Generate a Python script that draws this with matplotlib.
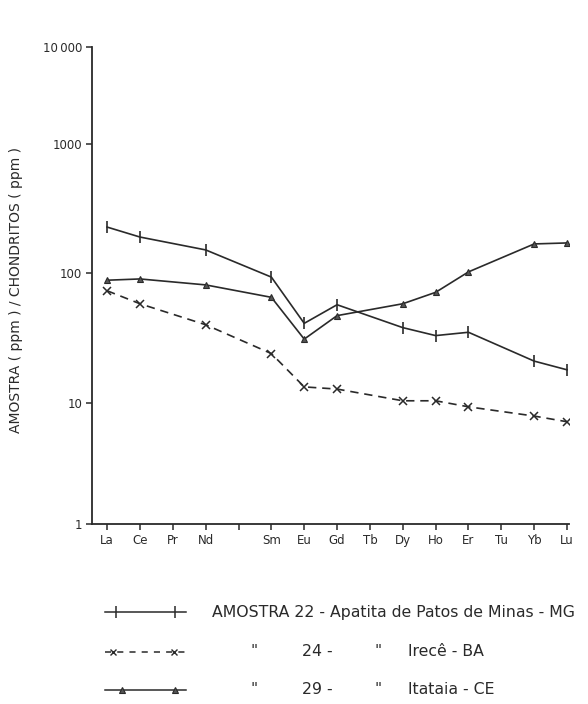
import numpy as np
import matplotlib
matplotlib.use("Agg")
import matplotlib.pyplot as plt
from matplotlib.ticker import FixedLocator, NullLocator

elements = ["La", "Ce", "Pr", "Nd", "", "Sm", "Eu", "Gd", "Tb", "Dy", "Ho", "Er", "Tu", "Yb", "Lu"]

# sample 22 (positions in element list), values normalised to chondrites
s22_idx = [0, 1, 3, 5, 6, 7, 9, 10, 11, 13, 14]
s22_val = [227, 190, 151, 93, 41, 57, 38, 33, 35, 21, 18]

s24_idx = [0, 1, 3, 5, 6, 7, 9, 10, 11, 13, 14]
s24_val = [73, 58, 40, 24, 13.3, 12.8, 10.4, 10.4, 9.3, 7.8, 7.0]

s29_idx = [0, 1, 3, 5, 6, 7, 9, 10, 11, 13, 14]
s29_val = [88, 90, 81, 65, 31, 47, 58, 71, 102, 168, 171]

ytick_vals = [1, 10, 100, 1000, 10000]
ytick_labels = ["1", "10", "100", "1000", "10\u2009000"]

# hand-drawn decade spacing of the original (log10 -> drawn height)
_dec_log = np.array([0.0, 1.0, 2.0, 3.0, 4.0])
_dec_pos = np.array([0.0, 121.0, 251.0, 380.0, 477.0])

def fwd(v):
    v = np.asarray(v, dtype=float)
    lv = np.log10(np.clip(v, 1e-6, None))
    return np.interp(lv, _dec_log, _dec_pos, left=-1e3, right=1e3)

def inv(p):
    p = np.asarray(p, dtype=float)
    return 10 ** np.interp(p, _dec_pos, _dec_log)

plt.rcParams["font.family"] = ["DejaVu Sans"]
INK = "#2a2a2a"

fig = plt.figure(figsize=(5.88, 7.04), dpi=100)
fig.patch.set_facecolor("white")
ax = fig.add_axes([92/588, 1-524/704, (569-92)/588, (524-47)/704])

ax.set_yscale("function", functions=(fwd, inv))
ax.set_ylim(1, 10000)
ax.set_xlim(-0.46, 14.06)

ax.plot(s22_idx, s22_val, color=INK, lw=1.2, marker="|", ms=9, mew=1.2)
ax.plot(s24_idx, s24_val, color=INK, lw=1.2, ls=(0, (5, 3.5)), marker="x", ms=5.5, mew=1.1)
ax.plot(s29_idx, s29_val, color=INK, lw=1.2, marker="^", ms=5, mfc="#555555", mec=INK, mew=0.8)

for s in ["top", "right"]:
    ax.spines[s].set_visible(False)
for s in ["left", "bottom"]:
    ax.spines[s].set_color(INK)
    ax.spines[s].set_linewidth(1.3)

ax.yaxis.set_major_locator(FixedLocator(ytick_vals))
ax.yaxis.set_minor_locator(NullLocator())
ax.set_yticklabels(ytick_labels)
ax.set_xticks(range(len(elements)))
ax.set_xticklabels(elements)
ax.tick_params(axis="both", direction="out", length=4, width=1.1, color=INK,
               labelsize=8.5, labelcolor=INK, pad=3)
ax.set_ylabel("AMOSTRA ( ppm ) / CHONDRITOS ( ppm )", fontsize=10, color=INK)
ax.yaxis.set_label_coords(-0.145, 0.49)

# legend drawn below the chart
lg = fig.add_axes([0, 0, 1, 1], facecolor="none")
lg.set_xlim(0, 588)
lg.set_ylim(704, 0)
lg.axis("off")
fs = 11.3
rows = [612, 652, 690]
lg.plot([105, 186], [rows[0]]*2, color=INK, lw=1.1)
lg.plot([116, 175], [rows[0]]*2, ls="none", marker="|", ms=8, mew=1.1, color=INK)
lg.text(212, rows[0], "AMOSTRA 22 - Apatita de Patos de Minas - MG", fontsize=fs,
        va="center", ha="left", color=INK)

lg.plot([105, 186], [rows[1]]*2, color=INK, lw=1.1, ls=(0, (4, 4)))
lg.plot([113, 174], [rows[1]]*2, ls="none", marker="x", ms=4.5, mew=1.0, color=INK)
for x, t in [(250, "\""), (302, "24 -"), (375, "\""), (408, "Irecê - BA")]:
    lg.text(x, rows[1], t, fontsize=fs, va="center", ha="left", color=INK)

lg.plot([105, 186], [rows[2]]*2, color=INK, lw=1.1)
lg.plot([122, 175], [rows[2]]*2, ls="none", marker="^", ms=4.5, mfc="#555555", mec=INK, mew=0.8)
for x, t in [(250, "\""), (302, "29 -"), (375, "\""), (408, "Itataia - CE")]:
    lg.text(x, rows[2], t, fontsize=fs, va="center", ha="left", color=INK)

fig.savefig("out.png", dpi=100)
